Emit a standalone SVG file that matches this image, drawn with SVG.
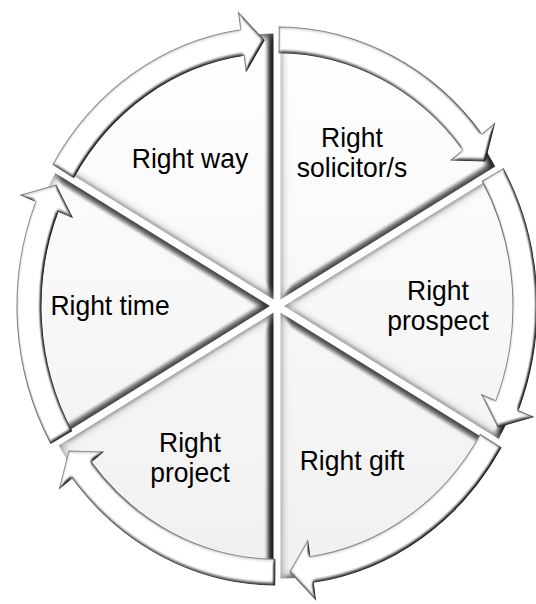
<svg xmlns="http://www.w3.org/2000/svg" width="536" height="604" viewBox="0 0 536 604">
<defs>
<linearGradient id="sliceFill" gradientUnits="userSpaceOnUse" x1="0" y1="-250" x2="0" y2="250">
<stop offset="0" stop-color="#ffffff"/>
<stop offset="1" stop-color="#f0f0f0"/>
</linearGradient>
<filter id="sliceBevel" x="-10%" y="-10%" width="120%" height="120%" color-interpolation-filters="sRGB">
<feGaussianBlur in="SourceAlpha" stdDeviation="4.5" result="b"/>
<feDiffuseLighting in="b" surfaceScale="8" diffuseConstant="1.25" lighting-color="#ffffff" result="l">
<feDistantLight azimuth="180" elevation="62"/>
</feDiffuseLighting>
<feColorMatrix in="b" type="matrix" values="0 0 0 0.5 0.5  0 0 0 0.5 0.5  0 0 0 0.5 0.5  0 0 0 0 1" result="e"/>
<feComposite in="l" in2="e" operator="arithmetic" k1="1" result="le"/>
<feComposite in="le" in2="SourceGraphic" operator="arithmetic" k1="1"/>
</filter>
<filter id="arrowBevel" x="-10%" y="-10%" width="120%" height="120%" color-interpolation-filters="sRGB">
<feGaussianBlur in="SourceAlpha" stdDeviation="1.8" result="b"/>
<feDiffuseLighting in="b" surfaceScale="3" diffuseConstant="1.2" lighting-color="#ffffff" result="l">
<feDistantLight azimuth="225" elevation="60"/>
</feDiffuseLighting>
<feColorMatrix in="b" type="matrix" values="0 0 0 0.55 0.45  0 0 0 0.55 0.45  0 0 0 0.55 0.45  0 0 0 0 1" result="e"/>
<feComposite in="l" in2="e" operator="arithmetic" k1="1" result="le"/>
<feComposite in="le" in2="SourceGraphic" operator="arithmetic" k1="1"/>
</filter>
</defs>
<style>
.slice{fill:url(#sliceFill);filter:url(#sliceBevel);}
.arrow{fill:#ffffff;stroke:#b4b4b4;stroke-width:1;stroke-linejoin:miter;filter:url(#arrowBevel);}
.label{font-family:"Liberation Sans",Arial,sans-serif;font-size:26.5px;fill:#000000;text-anchor:middle;}
</style>
<g transform="translate(277,306) scale(1,1.073)">
<g id="node-right-solicitors">
<path class="slice" d="M3.5,-6.06 L3.5,-254.06 A248,248 0 0 1 218.27,-130.06 Z"/>
<text class="label" x="75" y="-148.2">Right</text>
<text class="label" x="75" y="-120.2">solicitor/s</text>
</g>
<g id="node-right-prospect">
<path class="slice" d="M7,0 L221.77,-124 A248,248 0 0 1 221.77,124 Z"/>
<text class="label" x="161" y="-5.6">Right</text>
<text class="label" x="161" y="22.4">prospect</text>
</g>
<g id="node-right-gift">
<path class="slice" d="M3.5,6.06 L218.27,130.06 A248,248 0 0 1 3.5,254.06 Z"/>
<text class="label" x="75" y="152.8">Right gift</text>
</g>
<g id="node-right-project">
<path class="slice" d="M-3.5,6.06 L-3.5,254.06 A248,248 0 0 1 -218.27,130.06 Z"/>
<text class="label" x="-87" y="136">Right</text>
<text class="label" x="-87" y="164">project</text>
</g>
<g id="node-right-time">
<path class="slice" d="M-7,0 L-221.77,124 A248,248 0 0 1 -221.77,-124 Z"/>
<text class="label" x="-167" y="8.4">Right time</text>
</g>
<g id="node-right-way">
<path class="slice" d="M-3.5,-6.06 L-218.27,-130.06 A248,248 0 0 1 -3.5,-254.06 Z"/>
<text class="label" x="-87" y="-128.6">Right way</text>
</g>
<g id="connectors">
<path class="arrow" d="M-224.02,-131.96 A260,260 0 0 1 -36.18,-257.47 L-38.41,-273.31 L-12.98,-247.66 L-30.76,-218.85 L-32.84,-233.70 A236,236 0 0 0 -203.34,-119.78 Z"/>
<path class="arrow" d="M2.27,-259.99 A260,260 0 0 1 204.88,-160.07 L217.49,-169.92 L207.99,-135.07 L174.15,-136.06 L185.97,-145.30 A236,236 0 0 0 2.06,-235.99 Z"/>
<path class="arrow" d="M226.29,-128.03 A260,260 0 0 1 241.07,97.40 L255.90,103.39 L220.97,112.59 L204.91,82.79 L218.81,88.41 A236,236 0 0 0 205.40,-116.21 Z"/>
<path class="arrow" d="M224.02,131.96 A260,260 0 0 1 36.18,257.47 L38.41,273.31 L12.98,247.66 L30.76,218.85 L32.84,233.70 A236,236 0 0 0 203.34,119.78 Z"/>
<path class="arrow" d="M-2.27,259.99 A260,260 0 0 1 -204.88,160.07 L-217.49,169.92 L-207.99,135.07 L-174.15,136.06 L-185.97,145.30 A236,236 0 0 0 -2.06,235.99 Z"/>
<path class="arrow" d="M-226.29,128.03 A260,260 0 0 1 -241.07,-97.40 L-255.90,-103.39 L-220.97,-112.59 L-204.91,-82.79 L-218.81,-88.41 A236,236 0 0 0 -205.40,116.21 Z"/>
</g>
</g>
</svg>
